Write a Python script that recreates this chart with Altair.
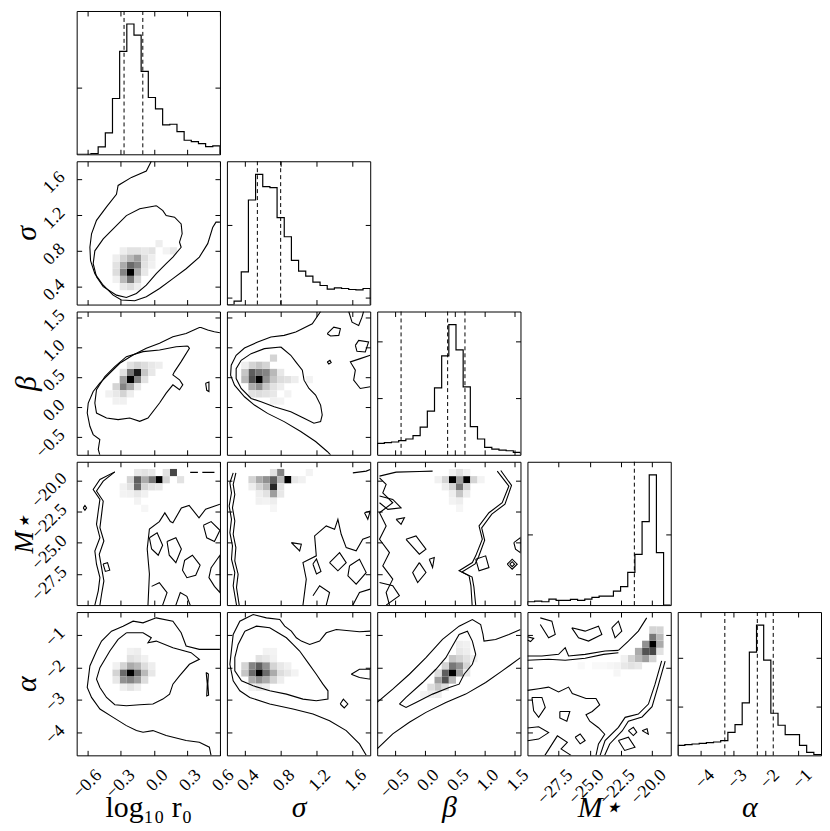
import altair as alt
import pandas as pd

FONT = "Liberation Serif"
W = 144

LABELS = ["log₁₀ r₀", "σ", "β", "M⋆", "α"]
TSTYLE = ["normal", "italic", "italic", "italic", "italic"]
LO = [-0.70, 0.20, -0.80, -30.0, -4.70]
HI = [0.60, 1.80, 1.60, -18.5, -0.29]
TICKS = [[-0.6, -0.3, 0.0, 0.3, 0.6], [0.4, 0.8, 1.2, 1.6], [-0.5, 0.0, 0.5, 1.0, 1.5],
         [-27.5, -25.0, -22.5, -20.0], [-4, -3, -2, -1]]
FMT = [".1f", ".1f", ".1f", ".1f", "d"]

# 1-D histograms (20 bins each, relative counts)
HIST_0 = [0, 0, 2, 22, 64, 167, 308, 390, 357, 248, 170, 136, 88, 90, 68, 42, 38, 32, 23, 25]
HIST_1 = [0, 10, 98, 313, 390, 353, 350, 260, 203, 132, 100, 85, 67, 57, 46, 50, 48, 45, 44, 48]
HIST_2 = [34, 36, 38, 42, 47, 57, 82, 130, 199, 294, 387, 312, 202, 84, 47, 22, 17, 14, 12, 7]
HIST_3 = [10, 12, 10, 18, 14, 14, 17, 14, 18, 23, 27, 27, 42, 55, 98, 152, 250, 390, 157, 0]
HIST_4 = [30, 32, 34, 36, 38, 40, 44, 69, 92, 157, 309, 390, 285, 126, 90, 62, 62, 30, 9, 2]
HISTS = [HIST_0, HIST_1, HIST_2, HIST_3, HIST_4]
HIST_TICKS = [[200], [21, 238], [169, 338], [213], [146, 292]]
QUANT = [[-0.27, -0.10], [0.54, 0.80], [-0.40, 0.38, 0.67], [-21.42], [-3.25, -2.25, -1.76]]

# 2-D histogram cells: (x bin, y bin, shade 0..1)
HEAT_10 = [(7,4,1.0),(7,5,0.55),(7,3,0.5),(6,4,0.45),(6,5,0.3),(8,5,0.45),(8,6,0.35),(8,4,0.3),(6,3,0.25),
           (8,3,0.15),(7,6,0.25),(6,6,0.15),(5,5,0.1),(5,4,0.12),(9,5,0.1),(9,6,0.12),(9,4,0.08),(7,2,0.12),
           (6,2,0.08),(8,2,0.06),(7,7,0.1),(8,7,0.1),(9,7,0.08),(10,7,0.1),(10,6,0.06),(11,8,0.06),(12,7,0.04),
           (13,7,0.08),(5,6,0.06),(6,7,0.06),(5,3,0.05),(10,5,0.05)]
HEAT_20 = [(7,10,1.0),(8,11,0.9),(7,11,0.5),(8,10,0.45),(6,10,0.35),(6,9,0.45),(7,9,0.3),(5,9,0.15),(6,8,0.15),
           (5,8,0.08),(9,11,0.2),(9,12,0.12),(8,12,0.15),(10,12,0.08),(10,11,0.08),(11,12,0.06),(9,10,0.1),
           (7,12,0.1),(6,11,0.1),(4,8,0.05),(5,7,0.05),(6,7,0.05),(8,9,0.08),(7,8,0.06)]
HEAT_21 = [(4,10,1.0),(3,11,0.6),(3,10,0.65),(4,11,0.5),(5,11,0.45),(5,10,0.4),(4,9,0.4),(3,9,0.3),
           (6,11,0.25),(6,10,0.2),(2,11,0.2),(2,10,0.25),(3,12,0.15),(4,12,0.2),(6,13,0.15),(5,12,0.15),
           (5,9,0.2),(6,9,0.1),(4,8,0.12),(5,8,0.1),(6,8,0.08),(7,10,0.12),(8,10,0.1),(7,9,0.06),(7,11,0.08),
           (9,10,0.06),(11,10,0.04),(7,7,0.04),(8,8,0.04),(6,7,0.05),(2,12,0.06),(3,8,0.1)]
HEAT_30 = [(11,17,1.0),(13,18,0.7),(8,17,0.6),(8,16,0.55),(10,17,0.5),(9,17,0.3),(7,17,0.15),(12,17,0.15),
           (12,18,0.1),(14,17,0.1),(9,16,0.15),(10,16,0.1),(7,16,0.1),(6,16,0.05),(8,15,0.08),(9,15,0.05),
           (7,15,0.05),(11,16,0.08),(8,18,0.08),(9,18,0.1),(10,18,0.08),(6,15,0.04),(8,14,0.04),(9,13,0.03)]
HEAT_31 = [(8,17,1.0),(6,16,0.85),(6,17,0.6),(7,18,0.45),(5,17,0.4),(4,17,0.3),(5,16,0.25),(6,15,0.35),
           (7,17,0.25),(3,17,0.15),(4,16,0.15),(6,18,0.1),(5,15,0.1),(7,16,0.1),(7,15,0.08),(4,15,0.06),
           (3,16,0.06),(6,14,0.06),(9,17,0.08),(10,17,0.05),(5,14,0.04),(4,14,0.05),(11,18,0.04),(6,13,0.03)]
HEAT_32 = [(10,17,1.0),(12,17,1.0),(11,16,0.5),(11,17,0.35),(10,16,0.15),(12,16,0.15),(11,15,0.2),(9,17,0.15),
           (13,17,0.15),(10,15,0.06),(12,15,0.06),(11,14,0.06),(9,16,0.06),(8,17,0.05),(11,18,0.1),(10,18,0.05),
           (12,18,0.05),(14,17,0.04),(10,14,0.04),(11,13,0.03)]
HEAT_40 = [(7,11,1.0),(8,11,0.55),(6,11,0.55),(7,10,0.45),(8,10,0.35),(6,10,0.4),(7,12,0.3),(8,12,0.25),
           (6,12,0.15),(9,11,0.25),(9,12,0.12),(9,10,0.12),(5,11,0.15),(5,10,0.08),(10,11,0.08),(10,12,0.06),
           (7,9,0.1),(6,9,0.06),(8,9,0.06),(7,13,0.1),(8,13,0.08),(7,14,0.05),(8,14,0.06),(9,13,0.05),(5,12,0.05)]
HEAT_41 = [(4,11,1.0),(4,12,0.6),(3,11,0.55),(5,11,0.55),(5,12,0.4),(3,12,0.45),(4,10,0.4),(3,10,0.3),(5,10,0.3),
           (6,11,0.3),(6,12,0.15),(6,10,0.15),(2,11,0.2),(2,12,0.15),(7,11,0.12),(7,12,0.08),(8,11,0.08),
           (7,10,0.06),(4,9,0.08),(5,9,0.06),(3,9,0.05),(4,13,0.1),(5,13,0.08),(6,13,0.05),(8,12,0.05),
           (9,11,0.04),(6,14,0.04),(5,14,0.04)]
HEAT_42 = [(10,11,1.0),(9,11,0.6),(9,10,0.65),(10,12,0.5),(11,12,0.4),(11,11,0.35),(8,10,0.35),(8,9,0.2),
           (10,10,0.25),(7,9,0.12),(9,9,0.12),(10,13,0.2),(11,13,0.15),(12,13,0.1),(12,12,0.15),(11,14,0.08),
           (12,14,0.06),(7,8,0.06),(8,8,0.06),(6,8,0.04),(9,12,0.15),(8,11,0.12),(12,11,0.08),(13,13,0.05),
           (12,15,0.05),(11,15,0.06)]
HEAT_43 = [(17,15,1.0),(17,16,0.5),(16,14,0.65),(17,14,0.7),(16,15,0.4),(18,15,0.3),(18,16,0.25),(17,17,0.15),
           (18,17,0.15),(15,14,0.3),(15,13,0.25),(16,13,0.35),(14,13,0.15),(13,12,0.08),(14,12,0.1),(15,12,0.08),
           (13,13,0.05),(12,12,0.04),(11,12,0.03),(10,12,0.02),(9,12,0.02),(17,13,0.15),(18,14,0.1),(12,11,0.03),
           (7,12,0.02)]

# contour paths in data units: (xs, ys)
PATHS_10 = [
    ([-0.023,-0.068,-0.203,-0.324,-0.339,-0.429,-0.52,-0.565,-0.58,-0.574,-0.535,-0.459,-0.369,-0.294,-0.173,
      -0.068,0.052,0.173,0.293,0.413,0.489,0.534,0.564,0.60],
     [1.80,1.69,1.62,1.53,1.43,1.29,1.14,0.99,0.84,0.69,0.545,0.416,0.305,0.25,0.242,0.287,0.38,0.49,0.60,
      0.73,0.88,1.06,1.12,1.12]),
    ([0.022,0.082,0.112,0.188,0.248,0.257,0.233,0.248,0.173,0.112,0.022,-0.068,-0.158,-0.249,-0.339,-0.459,
      -0.52,-0.55,-0.535,-0.459,-0.369,-0.249,-0.128,0.022],
     [1.304,1.249,1.193,1.175,1.10,0.99,0.897,0.84,0.73,0.656,0.545,0.416,0.324,0.279,0.305,0.40,0.51,0.656,
      0.80,0.934,1.045,1.193,1.27,1.304]),
]
PATHS_20 = [
    ([0.60,0.549,0.489,0.428,0.413,0.293,0.173,0.052,-0.068,-0.188,-0.309,-0.399,-0.49,-0.55,-0.595,-0.604,
      -0.58,-0.55,-0.49,-0.504,-0.49],
     [1.244,1.261,1.289,1.333,1.333,1.233,1.178,1.067,0.983,0.872,0.733,0.567,0.40,0.261,0.067,-0.10,-0.322,
      -0.461,-0.544,-0.711,-0.80]),
    ([0.308,0.323,0.248,0.188,0.173,0.233,0.263,0.233,0.173,0.112,0.052,-0.053,-0.128,-0.219,-0.324,-0.429,
      -0.52,-0.535,-0.52,-0.444,-0.354,-0.249,-0.098,0.052,0.203,0.308],
     [1.022,0.983,0.761,0.594,0.539,0.456,0.372,0.289,0.372,0.233,0.067,-0.183,-0.239,-0.183,-0.211,-0.183,
      -0.10,0.067,0.289,0.511,0.678,0.844,0.928,0.956,1.011,1.022]),
    ([0.47,0.50,0.50,0.48,0.47], [0.40,0.42,0.26,0.28,0.40]),
]
PATHS_21 = [
    ([1.246,1.153,1.042,0.969,0.839,0.691,0.544,0.396,0.303,0.248,0.241,0.285,0.396,0.507,0.654,0.839,1.024,
      1.19,1.32,1.357],
     [1.60,1.394,1.311,1.256,1.20,1.172,1.089,0.989,0.867,0.70,0.533,0.367,0.172,0.033,-0.106,-0.244,-0.411,
      -0.578,-0.744,-0.80]),
    ([0.802,0.913,0.969,1.042,1.061,1.116,1.19,1.246,1.264,1.246,1.172,1.061,0.913,0.728,0.581,0.47,0.359,
      0.303,0.303,0.359,0.47,0.618,0.802],
     [1.006,0.867,0.756,0.617,0.45,0.311,0.20,0.033,-0.133,-0.244,-0.272,-0.189,-0.078,0.006,0.089,0.144,
      0.311,0.478,0.644,0.783,0.894,0.978,1.006]),
    ([1.32,1.393,1.467,1.449,1.357,1.32], [1.228,1.339,1.311,1.20,1.189,1.228]),
    ([1.56,1.597,1.671,1.708,1.726], [1.60,1.422,1.367,1.506,1.60]),
    ([1.634,1.671,1.782,1.745,1.652,1.634], [1.033,1.117,1.089,0.922,0.933,1.033]),
    ([1.80,1.689,1.578,1.634,1.615,1.689,1.80], [0.867,0.811,0.756,0.617,0.45,0.311,0.339]),
    ([1.32,1.35,1.364,1.338,1.32], [0.756,0.783,0.744,0.722,0.756]),
]
PATHS_30 = [
    ([-0.354,-0.489,-0.55,-0.489,-0.504,-0.52,-0.489,-0.535,-0.52,-0.489,-0.504,-0.535],
     [-19.31,-19.92,-20.72,-21.52,-22.45,-23.52,-24.59,-25.66,-26.72,-27.79,-28.86,-30.0]),
    ([-0.354,-0.459,-0.52,-0.459,-0.474,-0.489,-0.453,-0.495,-0.474,-0.453,-0.474,-0.489],
     [-19.31,-20.05,-20.85,-21.65,-22.72,-23.79,-24.86,-25.92,-26.99,-28.06,-29.13,-30.0]),
    ([-0.64,-0.625,-0.61,-0.625,-0.64], [-22.2,-22.0,-22.2,-22.4,-22.2]),
    ([-0.46,-0.42,-0.40,-0.44,-0.46], [-26.7,-26.6,-27.2,-27.3,-26.7]),
    ([0.33,0.40], [-19.35,-19.35]),
    ([0.44,0.55], [-19.35,-19.35]),
    ([-0.053,-0.04,-0.06,-0.04,0.05,0.10,0.15,0.173,0.25,0.32,0.41,0.47,0.60],
     [-30.0,-27.5,-25.5,-23.9,-23.3,-22.6,-23.3,-23.4,-22.2,-22.0,-23.0,-22.3,-21.9]),
    ([-0.04,0.03,0.08,0.04,-0.02,-0.04], [-24.6,-24.2,-25.2,-26.0,-25.5,-24.6]),
    ([0.12,0.20,0.25,0.20,0.14,0.12], [-24.9,-24.6,-25.5,-26.6,-26.0,-24.9]),
    ([0.28,0.35,0.42,0.38,0.30,0.26,0.28], [-26.4,-26.0,-26.8,-27.6,-27.8,-27.2,-26.4]),
    ([0.45,0.52,0.60,0.55,0.48,0.45], [-23.6,-23.3,-24.0,-24.9,-24.6,-23.6]),
    ([0.52,0.60,0.60,0.55,0.50,0.52], [-27.0,-26.0,-29.0,-28.5,-27.8,-27.0]),
    ([-0.02,0.05,0.12,0.08], [-28.5,-28.2,-29.0,-30.0]),
    ([0.20,0.24,0.30,0.33], [-30.0,-29.0,-29.3,-30.0]),
]
PATHS_31 = [
    ([0.27,0.233,0.251,0.225,0.251,0.233,0.262,0.251,0.288,0.27,0.307],
     [-19.39,-20.19,-20.99,-22.05,-23.12,-24.19,-25.25,-26.32,-27.39,-28.45,-30.0]),
    ([0.30,0.27,0.288,0.262,0.288,0.27,0.30,0.288,0.325,0.307,0.337],
     [-19.39,-20.32,-21.12,-22.19,-23.25,-24.32,-25.39,-26.45,-27.52,-28.59,-30.0]),
    ([1.049,1.086,1.049,1.198,1.179,1.309,1.402,1.439,1.476,1.532,1.643,1.717,1.80],
     [-30.0,-27.92,-26.59,-26.05,-24.45,-23.65,-23.92,-23.12,-24.32,-25.39,-25.65,-24.72,-24.5]),
    ([1.346,1.458,1.532,1.439,1.346], [-26.59,-25.79,-26.59,-27.25,-26.59]),
    ([1.569,1.68,1.755,1.643,1.551,1.569], [-26.85,-26.32,-27.39,-28.32,-27.65,-26.85]),
    ([1.161,1.235,1.346,1.309], [-29.25,-28.45,-28.99,-30.0]),
    ([1.606,1.68,1.80], [-30.0,-28.99,-28.72]),
    ([0.919,1.031,1.012,0.919], [-24.99,-25.12,-25.65,-24.99]),
    ([1.606,1.755,1.80], [-19.39,-19.25,-19.12]),
    ([1.736,1.80,1.773,1.736], [-22.59,-22.45,-23.12,-22.59]),
    ([1.16,1.20,1.25,1.20,1.16], [-26.7,-26.3,-27.3,-27.5,-26.7]),
]
PATHS_32 = [
    ([-0.761,-0.483,-0.094,0.128], [-19.65,-19.33,-19.28,-19.25]),
    ([-0.761,-0.65,-0.706,-0.539,-0.761,-0.65,-0.761,-0.594,-0.706,-0.539,-0.65,-0.594],
     [-19.79,-20.32,-20.99,-21.79,-22.59,-23.65,-24.72,-25.79,-26.85,-27.92,-28.99,-30.0]),
    ([-0.761,-0.539,-0.40,-0.622,-0.761], [-21.25,-21.52,-22.19,-22.32,-21.79]),
    ([-0.483,-0.344,-0.40,-0.483], [-23.12,-22.99,-23.52,-23.12]),
    ([-0.317,-0.15,0.017,-0.094,-0.317], [-24.72,-24.45,-25.52,-25.92,-24.72]),
    ([0.072,0.156,0.128,0.072], [-26.32,-26.19,-26.99,-26.32]),
    ([-0.094,0.017,-0.122,-0.206,-0.094], [-26.59,-27.39,-28.19,-27.39,-26.59]),
    ([-0.761,-0.539,-0.428,-0.65], [-28.19,-28.45,-29.25,-30.0]),
    ([1.211,1.406,1.294,1.072,0.906,0.961,0.85,0.794,0.572,0.739,0.77,0.79],
     [-19.25,-20.45,-21.79,-22.59,-23.65,-24.72,-26.05,-26.59,-27.25,-27.65,-28.45,-30.0]),
    ([1.27,1.45,1.34,1.12,0.95,1.00,0.90,0.84,0.62,0.79,0.82,0.85],
     [-19.2,-20.4,-21.9,-22.7,-23.8,-24.8,-26.1,-26.7,-27.35,-27.75,-28.55,-30.0]),
    ([0.85,1.017,1.072,0.906,0.85], [-26.32,-26.05,-26.99,-27.25,-26.32]),
    ([1.489,1.60,1.60,1.517,1.489], [-24.99,-24.59,-25.79,-25.52,-24.99]),
    ([1.378,1.461,1.545,1.461,1.378], [-26.72,-26.32,-26.72,-27.12,-26.72]),
    ([1.42,1.461,1.50,1.461,1.42], [-26.72,-26.52,-26.72,-26.92,-26.72]),
]
PATHS_40 = [
    ([0.60,0.413,0.293,0.248,0.173,0.022,-0.098,-0.188,-0.279,-0.384,-0.474,-0.52,-0.58,-0.604,-0.565,-0.489,
      -0.369,-0.249,-0.158,-0.098,-0.008,0.112,0.293,0.413,0.504,0.519],
     [-1.439,-1.439,-1.337,-0.929,-0.571,-0.469,-0.622,-0.571,-0.724,-0.878,-1.184,-1.49,-1.949,-2.612,-2.918,
      -3.276,-3.531,-3.786,-3.939,-3.99,-3.939,-4.092,-4.245,-4.296,-4.449,-4.70]),
    ([-0.249,-0.098,-0.023,-0.053,0.022,0.173,0.338,0.413,0.323,0.233,0.173,0.143,0.082,-0.008,-0.128,-0.249,
      -0.354,-0.429,-0.489,-0.52,-0.489,-0.399,-0.324,-0.249],
     [-0.929,-0.929,-1.082,-1.235,-1.184,-1.388,-1.541,-1.745,-1.898,-2.255,-2.51,-2.816,-2.969,-3.122,-3.143,
      -3.173,-3.143,-2.918,-2.612,-2.357,-2.0,-1.49,-1.133,-0.929]),
    ([0.475,0.495,0.49,0.497,0.48,0.485,0.475], [-2.15,-2.2,-2.5,-2.85,-2.87,-2.5,-2.15]),
]
PATHS_41 = [
    ([1.80,1.68,1.421,1.309,1.235,1.124,1.031,0.975,0.919,0.845,0.79,0.641,0.493,0.344,0.27,0.233,0.27,0.344,
      0.455,0.678,0.938,1.161,1.346,1.532,1.68,1.755],
     [-0.878,-0.898,-0.827,-0.929,-1.184,-1.286,-1.184,-1.082,-0.878,-0.724,-0.52,-0.469,-0.367,-0.571,-0.98,
      -1.898,-2.408,-2.714,-2.918,-3.122,-3.276,-3.429,-3.633,-3.939,-4.347,-4.70]),
    ([0.40,0.53,0.678,0.771,0.864,0.938,1.012,1.105,1.198,1.272,1.328,1.328,1.198,1.049,0.864,0.678,0.493,
      0.363,0.288,0.288,0.325,0.40],
     [-0.878,-0.724,-0.776,-0.929,-1.082,-1.286,-1.49,-1.847,-2.204,-2.51,-2.714,-2.969,-3.02,-2.969,-2.816,
      -2.714,-2.561,-2.408,-2.102,-1.694,-1.286,-0.878]),
    ([1.588,1.68,1.80,1.80,1.68,1.588], [-2.204,-2.051,-2.051,-2.357,-2.306,-2.204]),
    ([1.465,1.50,1.55,1.51,1.465], [-3.12,-2.97,-3.12,-3.24,-3.12]),
]
PATHS_42 = [
    ([-0.8,-0.539,-0.261,0.017,0.294,0.572,0.794,0.933,0.972,0.989,1.183,1.406,1.6],
     [-3.071,-2.663,-2.204,-1.694,-1.133,-0.724,-0.52,-0.673,-0.98,-1.184,-1.133,-0.98,-0.827]),
    ([-0.8,-0.539,-0.261,0.017,0.35,0.683,1.017,1.294,1.6],
     [-4.5,-4.041,-3.684,-3.378,-3.071,-2.816,-2.459,-2.102,-1.694]),
    ([-0.428,-0.317,-0.039,0.183,0.35,0.461,0.572,0.711,0.794,0.85,0.794,0.656,0.572,0.406,0.128,-0.15,-0.317,-0.428],
     [-3.122,-2.918,-2.459,-2.051,-1.694,-1.337,-0.98,-0.878,-1.184,-1.592,-1.898,-2.204,-2.51,-2.612,-2.816,
      -3.071,-3.224,-3.122]),
]
PATHS_43 = [
    ([-30.0,-28.84,-27.5,-26.97,-26.7,-25.37,-23.77,-22.7], [-1.643,-1.643,-1.592,-1.388,-1.643,-1.592,-1.49,-1.469]),
    ([-30.0,-28.3,-26.97,-25.37,-23.9,-22.7], [-1.776,-1.745,-1.776,-1.714,-1.592,-1.541]),
    ([-22.7,-21.9,-21.1,-20.43], [-1.469,-1.184,-0.878,-0.469]),
    ([-28.97,-28.04,-27.77,-28.3,-28.97], [-0.469,-0.571,-0.98,-1.082,-0.673]),
    ([-26.44,-25.37,-24.3,-24.03,-25.1,-25.9,-26.44], [-0.776,-0.878,-0.724,-0.98,-1.184,-1.082,-0.776]),
    ([-23.23,-22.7,-22.43,-22.97,-23.23], [-0.776,-0.571,-0.878,-1.082,-0.776]),
    ([-30.0,-29.5,-29.75,-30.0], [-1.05,-1.1,-1.2,-1.15]),
    ([-29.64,-28.84,-28.57,-29.1,-29.5,-29.64], [-2.918,-2.918,-3.224,-3.531,-3.327,-2.918]),
    ([-30.0,-29.1,-28.3,-27.5,-26.7,-26.4,-25.3,-24.5,-24.2,-24.8,-25.3,-25.0,-24.3,-23.8,-24.3,-24.5],
     [-2.70,-2.65,-2.60,-2.75,-2.60,-2.80,-2.95,-2.95,-3.15,-3.35,-3.45,-3.65,-3.85,-4.05,-4.35,-4.70]),
    ([-27.4,-26.6,-26.84,-27.4,-27.4], [-3.35,-3.35,-3.65,-3.55,-3.35]),
    ([-26.17,-25.77,-25.37,-25.77,-26.17], [-4.143,-4.041,-4.245,-4.347,-4.143]),
    ([-30.0,-29.1,-28.3,-29.1,-30.0], [-3.86,-3.82,-4.00,-4.20,-4.25]),
    ([-28.6,-27.6,-26.8,-27.3,-26.5], [-4.70,-4.10,-4.30,-4.50,-4.70]),
    ([-19.23,-19.76,-20.29,-21.1,-22.16,-22.7,-23.77,-24.17], [-1.796,-2.51,-3.122,-3.429,-3.531,-3.837,-4.245,-4.70]),
    ([-18.95,-19.5,-20.0,-20.8,-21.9,-22.4,-23.4,-23.8], [-1.80,-2.55,-3.20,-3.52,-3.65,-3.95,-4.35,-4.70]),
    ([-21.9,-21.5,-21.23,-21.5,-21.9], [-3.939,-3.837,-3.99,-4.092,-3.939]),
    ([-22.7,-21.9,-21.37,-22.2,-22.7], [-4.245,-4.143,-4.45,-4.55,-4.245]),
    ([-20.8,-20.4,-20.3,-20.8], [-3.94,-3.88,-4.05,-3.94]),
]

HEATS = {(1,0): HEAT_10, (2,0): HEAT_20, (2,1): HEAT_21, (3,0): HEAT_30, (3,1): HEAT_31, (3,2): HEAT_32,
         (4,0): HEAT_40, (4,1): HEAT_41, (4,2): HEAT_42, (4,3): HEAT_43}
PATHS = {(1,0): PATHS_10, (2,0): PATHS_20, (2,1): PATHS_21, (3,0): PATHS_30, (3,1): PATHS_31, (3,2): PATHS_32,
         (4,0): PATHS_40, (4,1): PATHS_41, (4,2): PATHS_42, (4,3): PATHS_43}

BASE = dict(grid=False, domain=False, tickSize=5, offset=-5, tickColor="black", tickWidth=1)
LFS = 18
YTITLE_X = [-55, -55, -55, -57, -55]
YTITLE_FS = [30, 30, 30, 27, 30]
YLABEL_PAD = [15, 15, 15, 13, 15]


def ax_x(c, show, orient="bottom"):
    if show:
        return alt.Axis(orient=orient, values=TICKS[c], format=FMT[c], labels=True, labelAngle=315,
                        labelAlign="right", labelBaseline="middle", labelPadding=17, labelOffset=11,
                        labelFont=FONT, labelFontSize=LFS, labelColor="black", labelFlush=False,
                        labelOverlap=False, title=LABELS[c], titleX=72, titleY=57, titleFont=FONT,
                        titleFontSize=30, titleFontWeight="normal", titleFontStyle=TSTYLE[c],
                        titleColor="black", titleAlign="center", titleBaseline="middle", titleAngle=0, **BASE)
    return alt.Axis(orient=orient, values=TICKS[c], labels=False, title=None, **BASE)


def ax_y(r, show, orient="left", values=None):
    vals = TICKS[r] if values is None else values
    if show:
        return alt.Axis(orient=orient, values=vals, format=FMT[r], labels=True, labelAngle=315,
                        labelAlign="right", labelBaseline="middle", labelPadding=YLABEL_PAD[r], labelOffset=-5,
                        labelFont=FONT, labelFontSize=LFS, labelColor="black", labelFlush=False,
                        labelOverlap=False, title=LABELS[r], titleX=YTITLE_X[r], titleY=72, titleFont=FONT,
                        titleFontSize=YTITLE_FS[r], titleFontWeight="normal", titleFontStyle=TSTYLE[r],
                        titleColor="black", titleAlign="center", titleBaseline="middle", titleAngle=270, **BASE)
    return alt.Axis(orient=orient, values=vals, labels=False, title=None, **BASE)


def sc(lo, hi):
    return alt.Scale(domain=[lo, hi], nice=False, zero=False)


def hist_panel(c):
    h = HISTS[c]
    n = len(h)
    w = (HI[c] - LO[c]) / n
    xs, ys = [LO[c]], [0]
    for i, v in enumerate(h):
        xs += [LO[c] + i * w, LO[c] + (i + 1) * w]
        ys += [v, v]
    xs.append(HI[c]); ys.append(0)
    df = pd.DataFrame({"x": xs, "y": ys, "o": list(range(len(xs)))})
    xsc = sc(LO[c], HI[c])
    ysc = sc(0, max(h) * 1.1)
    line = alt.Chart(df).mark_line(color="black", strokeWidth=1.2, clip=True).encode(
        x=alt.X("x:Q", scale=xsc, axis=ax_x(c, c == 4)),
        y=alt.Y("y:Q", scale=ysc, axis=ax_y(c, False, values=HIST_TICKS[c])),
        order="o:Q")
    rules = alt.Chart(pd.DataFrame({"q": QUANT[c]})).mark_rule(
        color="black", strokeDash=[4, 3], strokeWidth=1).encode(x=alt.X("q:Q", scale=xsc, axis=None))
    axes = alt.Chart(pd.DataFrame({"x": [LO[c]], "y": [0]})).mark_point(opacity=0).encode(
        x=alt.X("x:Q", scale=xsc, axis=ax_x(c, False, orient="top")),
        y=alt.Y("y:Q", scale=ysc, axis=ax_y(c, False, orient="right", values=HIST_TICKS[c])))
    return alt.layer(line, rules, axes).resolve_axis(x="independent", y="independent").properties(width=W, height=W)


def pair_panel(r, c):
    wx = (HI[c] - LO[c]) / 20
    wy = (HI[r] - LO[r]) / 20
    cells = HEATS[(r, c)]
    hdf = pd.DataFrame({
        "x": [LO[c] + ix * wx for ix, iy, v in cells],
        "x2": [LO[c] + (ix + 1) * wx for ix, iy, v in cells],
        "y": [LO[r] + iy * wy for ix, iy, v in cells],
        "y2": [LO[r] + (iy + 1) * wy for ix, iy, v in cells],
        "v": [v for ix, iy, v in cells]})
    rows = []
    for k, (pxs, pys) in enumerate(PATHS[(r, c)]):
        for j, (a, b) in enumerate(zip(pxs, pys)):
            rows.append({"id": k, "o": j, "x": a, "y": b})
    pdf = pd.DataFrame(rows)
    xsc = sc(LO[c], HI[c])
    ysc = sc(LO[r], HI[r])
    rect = alt.Chart(hdf).mark_rect().encode(
        x=alt.X("x:Q", scale=xsc, axis=ax_x(c, r == 4)), x2="x2",
        y=alt.Y("y:Q", scale=ysc, axis=ax_y(r, c == 0)), y2="y2",
        color=alt.Color("v:Q", scale=alt.Scale(domain=[0, 1], range=["#ffffff", "#000000"]), legend=None))
    lines = alt.Chart(pdf).mark_line(color="black", strokeWidth=1.1, clip=True).encode(
        x=alt.X("x:Q", scale=xsc, axis=None), y=alt.Y("y:Q", scale=ysc, axis=None),
        detail="id:N", order="o:Q")
    axes = alt.Chart(pd.DataFrame({"x": [LO[c]], "y": [LO[r]]})).mark_point(opacity=0).encode(
        x=alt.X("x:Q", scale=xsc, axis=ax_x(c, False, orient="top")),
        y=alt.Y("y:Q", scale=ysc, axis=ax_y(r, False, orient="right")))
    return alt.layer(rect, lines, axes).resolve_axis(x="independent", y="independent").properties(width=W, height=W)


def blank_panel():
    return alt.Chart(pd.DataFrame({"x": [0]})).mark_point(opacity=0).encode(
        x=alt.X("x:Q", axis=None), y=alt.Y("x:Q", axis=None)).properties(
        width=W, height=W, view=alt.ViewBackground(stroke="transparent"))


cells = []
for r in range(5):
    for c in range(5):
        if c > r:
            cells.append(blank_panel())
        elif c == r:
            cells.append(hist_panel(c))
        else:
            cells.append(pair_panel(r, c))

chart = alt.concat(*cells, columns=5, spacing=7, bounds="flush").configure_view(
    stroke="black", strokeWidth=1).properties(
    padding={"left": 2, "top": 0, "right": 0, "bottom": 0}, background="white")

chart.save("out.html", embed_options={"renderer": "svg", "actions": False})
